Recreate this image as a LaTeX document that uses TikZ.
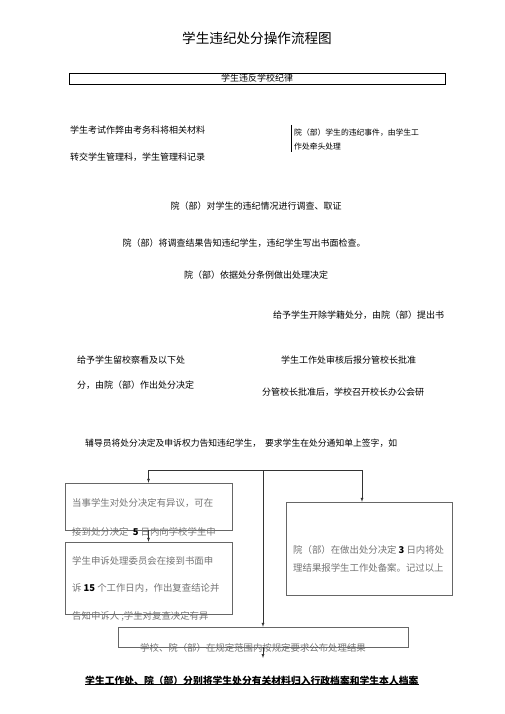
\documentclass[tikz,border=0pt]{standalone}
\usepackage{fontspec}
\setmainfont{Noto Sans CJK SC}
\usetikzlibrary{positioning}
\def\sz#1{\fontsize{#1bp}{#1bp}\selectfont}

\begin{document}
\begin{tikzpicture}[x=1bp,y=-1bp,->,>=latex,draw=black!80]
            \tikzstyle{every node}=[inner sep=0pt]
            \tikzstyle{line}=[anchor=west,font=\sz{9}]
            \tikzstyle{mid line}=[font=\sz{9}]
            \tikzstyle{box}=[rectangle,draw=black!60,-]
            \tikzstyle{box text}=[anchor=west,text=black!55,font=\sz{9.4}]
            \tikzstyle{num}=[]

            \useasboundingbox (0,0) rectangle (505,714);

            \node[font=\sz{13.6}] (TITLE) at (257,38) {学生违纪处分操作流程图};
            \node[box,draw=black,minimum width=376bp,minimum height=11bp,font=\sz{9}] (RULE) at (257,78.5) {学生违反学校纪律};

            % Draw the two sources of a case
            \node[line] (CHEAT-1) at (70,130) {学生考试作弊由考务科将相关材料};
            \node[line] (CHEAT-2) at (70,157) {转交学生管理科，学生管理科记录};
            \node[anchor=west,font=\sz{7.8}] (DEPT-1) at (294,133) {院（部）学生的违纪事件，由学生工};
            \node[anchor=west,font=\sz{7.8}] (DEPT-2) at (294,147) {作处牵头处理};
            \draw[-,black] (291,125) -- (291,152);

            % Investigation steps, one per line
            \foreach \name / \x / \y / \txt in {1/256/206/院（部）对学生的违纪情况进行调查、取证,
                                                2/244/243/院（部）将调查结果告知违纪学生，违纪学生写出书面检查。,
                                                3/256/275/院（部）依据处分条例做出处理决定}
                \node[mid line] (STEP-\name) at (\x,\y) {\txt};

            \node[line] (EXPEL) at (273,315) {给予学生开除学籍处分，由院（部）提出书};
            \node[line] (KEEP-1) at (77,360) {给予学生留校察看及以下处};
            \node[line] (KEEP-2) at (77,385) {分，由院（部）作出处分决定};
            \node[line] (APPROVE) at (281,360) {学生工作处审核后报分管校长批准};
            \node[line] (MEETING) at (262,392) {分管校长批准后，学校召开校长办公会研};
            \node[line,font=\sz{8.8}] (NOTIFY) at (85,443) {辅导员将处分决定及申诉权力告知违纪学生，\ \ 要求学生在处分通知单上签字，如};

            % Boxes of the appeal part
            \node[box,minimum width=167bp,minimum height=47bp] (APPEAL) at (148.5,506.5) {};
            \node[box,minimum width=167bp,minimum height=72bp] (REVIEW) at (148.5,578) {};
            \node[box,minimum width=166bp,minimum height=93bp] (RECORD) at (369,548.5) {};
            \node[box,minimum width=290bp,minimum height=20bp] (PUBLISH) at (263,637) {};

            \node[box text] (APPEAL-1) at (72,503) {当事学生对处分决定有异议，可在};
            \node[box text] (APPEAL-2) at (72,532) {接到处分决定\ \ \textcolor{black}{\textbf{5}} 日内向学校学生申};
            \node[box text] (REVIEW-1) at (72,561) {学生申诉处理委员会在接到书面申};
            \node[box text] (REVIEW-2) at (72,588) {诉 \textcolor{black}{\textbf{15}} 个工作日内，作出复查结论并};
            \node[box text] (REVIEW-3) at (72,616) {告知申诉人 ;学生对复查决定有异};
            \node[box text] (RECORD-1) at (293,550) {院（部）在做出处分决定 \textcolor{black}{\textbf{3}} 日内将处};
            \node[box text] (RECORD-2) at (293,568) {理结果报学生工作处备案。记过以上};
            \node[box text] (PUBLISH-1) at (140,648) {学校、院（部）在规定范围内按规定要求公布处理结果};

            \node[anchor=west,font=\sz{9.8}\bfseries] (ARCHIVE) at (85,681) {学生工作处、院（部）分别将学生处分有关材料归入行政档案和学生本人档案};
            \draw[-,black] ([yshift=-3bp]ARCHIVE.west) -- ([yshift=-3bp]ARCHIVE.east);

            % Connect the split point with the boxes
            \coordinate (SPLIT) at (263,470);
            \coordinate (FILE) at (263,658);
            \path (SPLIT) edge[-] (APPEAL.north |- SPLIT)
                  (APPEAL.north |- SPLIT) edge (APPEAL.north)
                  (SPLIT) edge[-] ([xshift=-7bp]RECORD.north |- SPLIT)
                  ([xshift=-7bp]RECORD.north |- SPLIT) edge ([xshift=-7bp]RECORD.north)
                  (SPLIT) edge (PUBLISH.north)
                  (APPEAL.south) edge (REVIEW.north)
                  (PUBLISH.south) edge (FILE);
\end{tikzpicture}
\end{document}
